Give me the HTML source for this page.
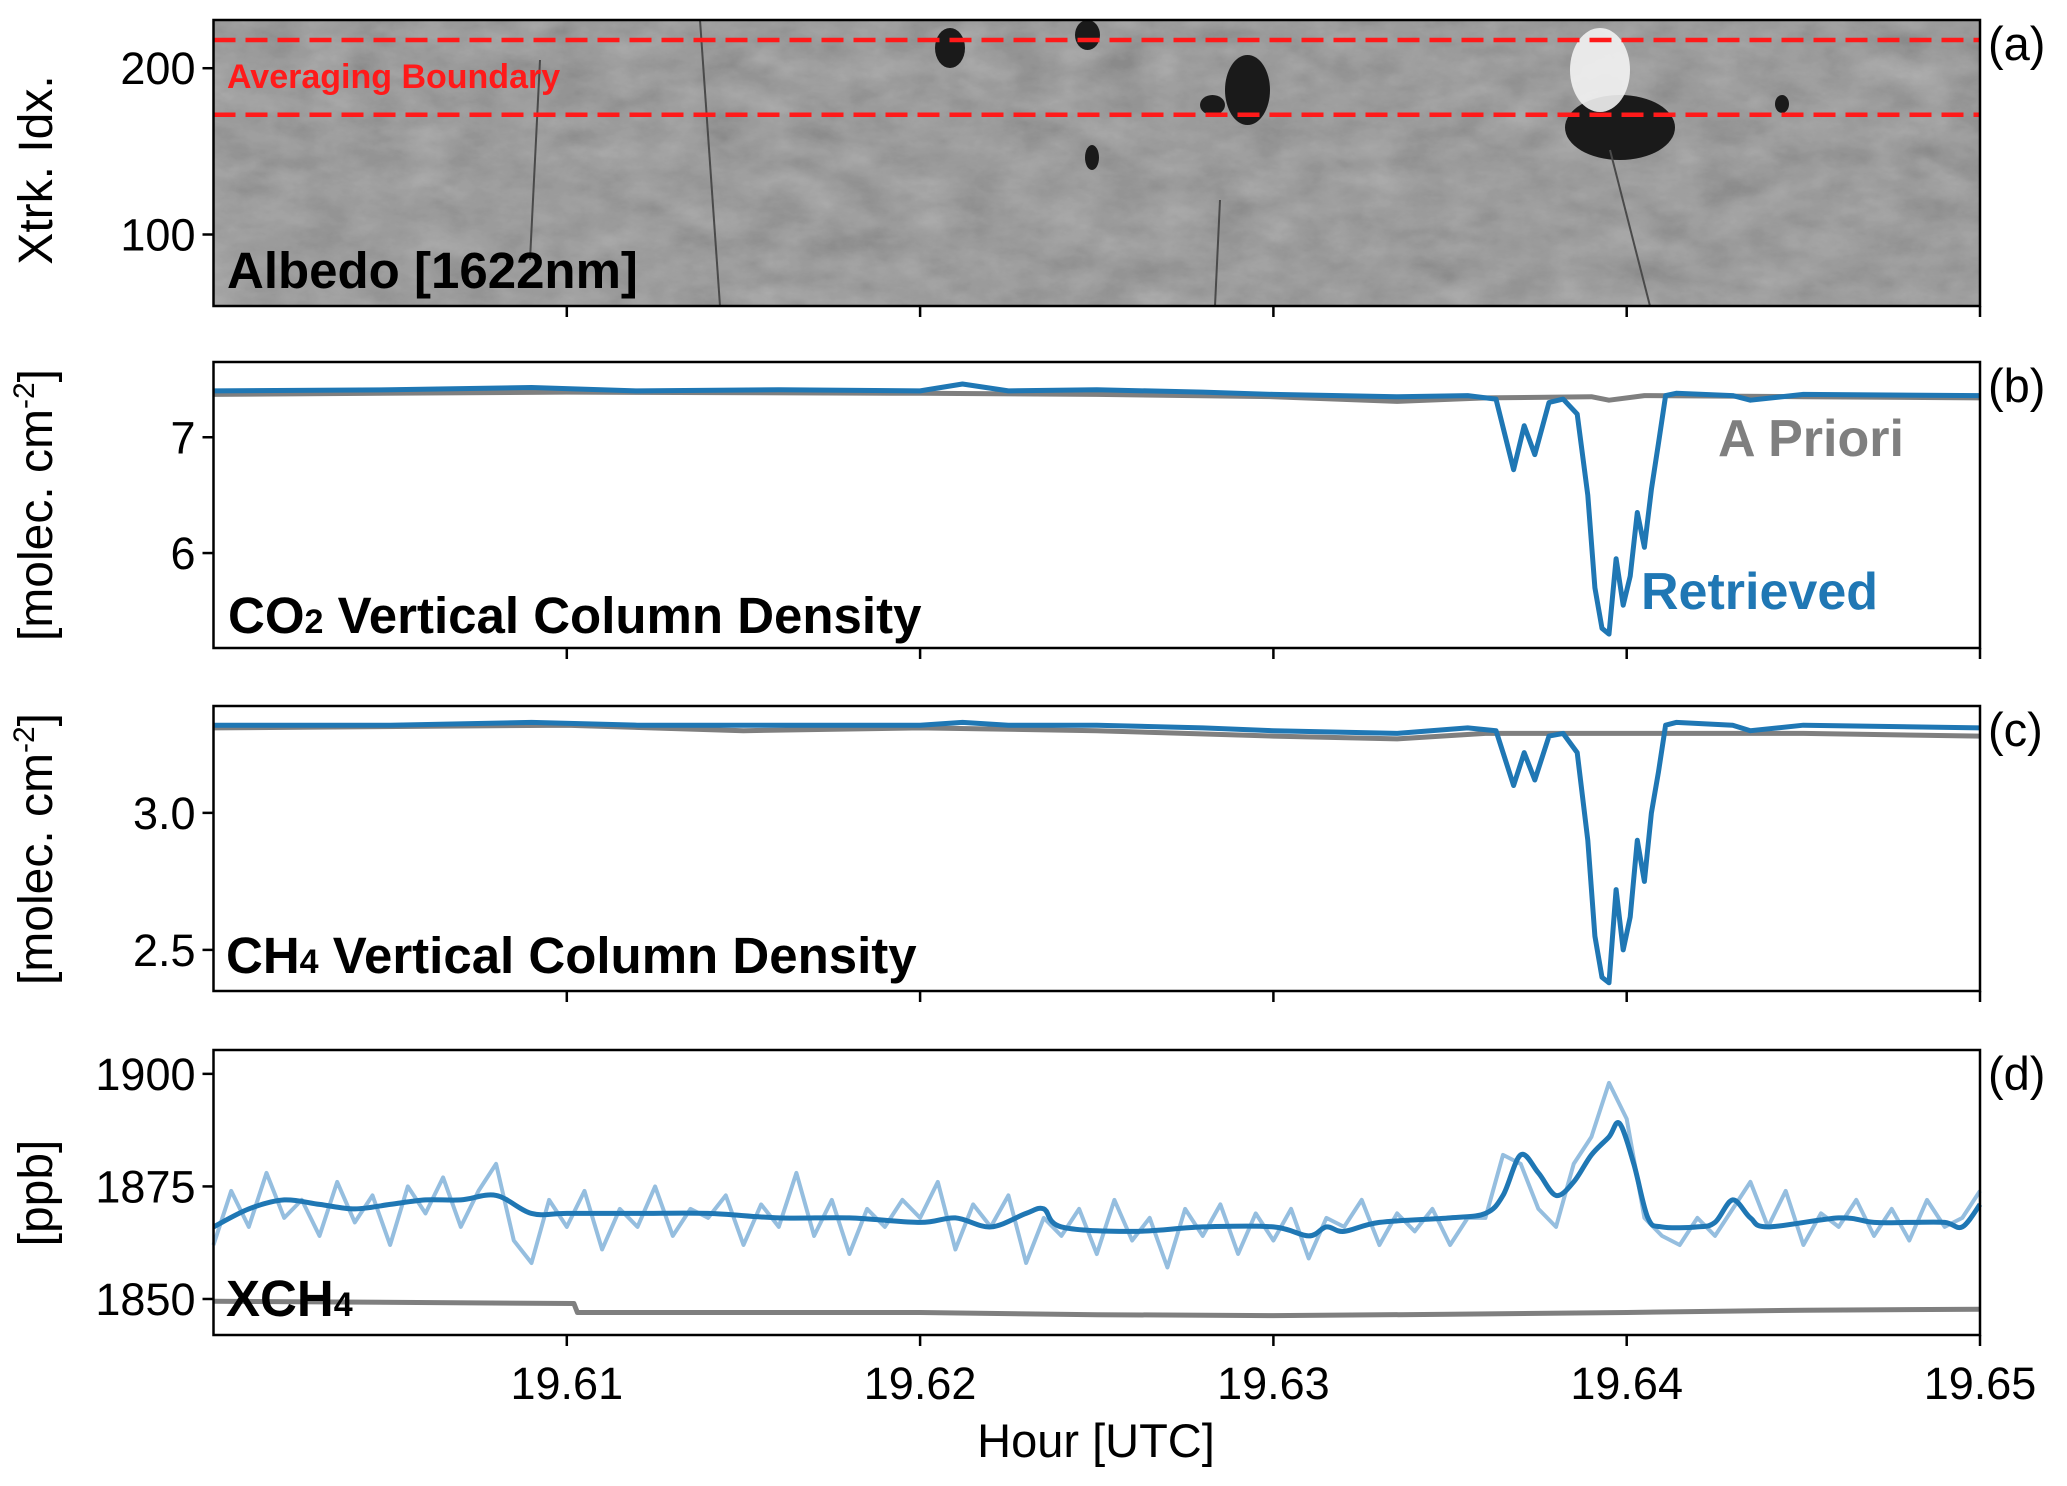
<!DOCTYPE html>
<html><head><meta charset="utf-8"><style>
html,body{margin:0;padding:0;background:#fff}
svg{display:block;font-family:"Liberation Sans",Arial,sans-serif}
</style></head><body>
<svg id="fig" width="2067" height="1486" viewBox="0 0 2067 1486" xmlns="http://www.w3.org/2000/svg">
<defs>
<filter id="noise" x="0" y="0" width="100%" height="100%">
<feTurbulence type="fractalNoise" baseFrequency="0.02 0.035" numOctaves="5" seed="3" result="t"/>
<feColorMatrix type="matrix" values="0 0 0 0 0.45  0 0 0 0 0.45  0 0 0 0 0.45  0.5 0.5 0.5 0 -0.35" in="t" result="m"/>
<feComposite in="m" in2="SourceGraphic" operator="over"/>
</filter>
<clipPath id="clipA"><rect x="213.5" y="20" width="1766.5" height="286"/></clipPath>
</defs>
<g id="root"></g>
</svg>
<script>
// ---------- data ----------
const xDomain=[19.60,19.65];
const xTicks=[19.61,19.62,19.63,19.64,19.65];
const xTickLabels=["19.61","19.62","19.63","19.64","19.65"];
const aDomain=[57,229]; const aTicks=[100,200];
const bounds=[217,172];
const bDomain=[5.18,7.65]; const bTicks=[6,7]; const bTickLabels=["6","7"];
const cDomain=[2.35,3.39]; const cTicks=[2.5,3.0]; const cTickLabels=["2.5","3.0"];
const dDomain=[1842,1905.3]; const dTicks=[1850,1875,1900];

const co2T=[19.600,19.605,19.609,19.612,19.616,19.620,19.6212,19.6225,19.625,19.628,19.630,19.6335,19.6355,19.6363,19.6368,19.6371,19.6374,19.6378,19.6382,19.6386,19.6389,19.6391,19.6393,19.6395,19.6397,19.6399,19.6401,19.6403,19.6405,19.6407,19.6409,19.6411,19.6414,19.643,19.6435,19.645,19.650];
const co2Ret=[7.40,7.41,7.43,7.40,7.41,7.40,7.46,7.40,7.41,7.39,7.37,7.35,7.36,7.33,6.72,7.10,6.85,7.30,7.33,7.20,6.50,5.70,5.35,5.30,5.95,5.55,5.80,6.35,6.05,6.55,6.95,7.36,7.38,7.36,7.32,7.37,7.36];
const co2ApT=[19.600,19.610,19.620,19.625,19.630,19.6335,19.636,19.639,19.6395,19.6405,19.645,19.650];
const co2Ap=[7.37,7.39,7.38,7.37,7.35,7.31,7.34,7.35,7.32,7.36,7.35,7.34];

const ch4T=co2T;
const ch4Ret=[3.32,3.32,3.33,3.32,3.32,3.32,3.33,3.32,3.32,3.31,3.30,3.29,3.31,3.30,3.10,3.22,3.12,3.28,3.29,3.22,2.90,2.55,2.40,2.38,2.72,2.50,2.62,2.90,2.75,3.00,3.15,3.32,3.33,3.32,3.30,3.32,3.31];
const ch4ApT=[19.600,19.610,19.615,19.620,19.625,19.630,19.6335,19.636,19.6395,19.6405,19.645,19.650];
const ch4Ap=[3.31,3.32,3.30,3.31,3.30,3.28,3.27,3.29,3.29,3.29,3.29,3.28];

const xRawT0=19.600, xRawStep=0.0005;
const xch4Raw=[1862,1874,1866,1878,1868,1872,1864,1876,1867,1873,1862,1875,1869,1877,1866,1874,1880,1863,1858,1872,
1866,1874,1861,1870,1866,1875,1864,1870,1868,1873,1862,1871,1866,1878,1864,1872,1860,1870,1866,1872,
1868,1876,1861,1871,1866,1873,1858,1868,1864,1870,1860,1872,1863,1868,1857,1870,1864,1871,1860,1869,
1863,1870,1859,1868,1866,1872,1862,1869,1865,1870,1862,1868,1868,1882,1880,1870,1866,1880,1886,1898,
1890,1868,1864,1862,1868,1864,1870,1876,1866,1874,1862,1869,1866,1872,1864,1870,1863,1872,1866,1868,1874];
const xch4SmT=[19.600,19.601,19.602,19.603,19.604,19.605,19.606,19.607,19.608,19.609,19.610,19.612,19.614,19.616,19.618,19.620,19.621,19.622,19.623,19.6235,19.624,19.626,19.628,19.630,19.631,19.6315,19.632,19.633,19.635,19.636,19.6365,19.637,19.6375,19.638,19.6385,19.639,19.6395,19.6398,19.6402,19.6406,19.641,19.642,19.6425,19.643,19.6435,19.644,19.646,19.647,19.648,19.649,19.6495,19.650];
const xch4Sm=[1866,1870,1872,1871,1870,1871,1872,1872,1873,1869,1869,1869,1869,1868,1868,1867,1868,1866,1869,1870,1866,1865,1866,1866,1864,1866,1865,1867,1868,1869,1873,1882,1878,1873,1876,1882,1886,1889,1880,1868,1866,1866,1867,1872,1868,1866,1868,1867,1867,1867,1866,1871];
const xch4ApT=[19.600,19.6102,19.6103,19.620,19.625,19.630,19.635,19.640,19.645,19.650];
const xch4Ap=[1849.5,1849,1847,1847,1846.5,1846.3,1846.6,1847,1847.5,1847.7];

// ---------- layout ----------
const L=213.5,R=1980;
const panels={a:[20,306],b:[362,648],c:[706,991],d:[1050,1335]};
const NS="http://www.w3.org/2000/svg";
const root=document.getElementById('root');
function el(tag,attrs,parent){const e=document.createElementNS(NS,tag);for(const k in attrs)e.setAttribute(k,attrs[k]);(parent||root).appendChild(e);return e;}
const xs=v=>L+(v-xDomain[0])/(xDomain[1]-xDomain[0])*(R-L);
function ys(p,dom){const [t,b]=panels[p];return v=>b-(v-dom[0])/(dom[1]-dom[0])*(b-t);}
function path(T,V,y){return T.map((t,i)=>(i?'L':'M')+xs(t).toFixed(1)+','+y(V[i]).toFixed(1)).join('');}
function smoothPath(T,V,y){const P=T.map((t,i)=>[xs(t),y(V[i])]);let d='M'+P[0][0].toFixed(1)+','+P[0][1].toFixed(1);
 for(let i=0;i<P.length-1;i++){const p0=P[Math.max(0,i-1)],p1=P[i],p2=P[i+1],p3=P[Math.min(P.length-1,i+2)];
 const c1=[p1[0]+(p2[0]-p0[0])/6,p1[1]+(p2[1]-p0[1])/6],c2=[p2[0]-(p3[0]-p1[0])/6,p2[1]-(p3[1]-p1[1])/6];
 d+='C'+c1[0].toFixed(1)+','+c1[1].toFixed(1)+' '+c2[0].toFixed(1)+','+c2[1].toFixed(1)+' '+p2[0].toFixed(1)+','+p2[1].toFixed(1);}
 return d;}

// panel a image
const ya=ys('a',aDomain);
let g=el('g',{'clip-path':'url(#clipA)'});


el('rect',{x:L,y:20,width:R-L,height:286,fill:'#8a8a8a',filter:'url(#noise)'},g);
const darkPatches=[[935,28,30,40],[1225,55,45,70],[1075,20,25,30],[1200,95,25,20],[1565,95,110,65],[1085,145,14,25],[1775,95,14,18]];
darkPatches.forEach(p=>{el('ellipse',{cx:p[0]+p[2]/2,cy:p[1]+p[3]/2,rx:p[2]/2,ry:p[3]/2,fill:'#1a1a1a'},g);});
el('ellipse',{cx:1600,cy:70,rx:30,ry:42,fill:'#f2f2f2',opacity:0.9},g);
[[540,60,530,260],[700,20,720,306],[1220,200,1215,306],[1610,150,1650,306]].forEach(l=>el('line',{x1:l[0],y1:l[1],x2:l[2],y2:l[3],stroke:'#4a4a4a','stroke-width':2},g));
bounds.forEach((b,i)=>{const e=el('line',{x1:L,x2:R,y1:ya(b),y2:ya(b),stroke:'#ff1a1a','stroke-width':4.5,'stroke-dasharray':'22,10'});
});

const yb=ys('b',bDomain), yc=ys('c',cDomain), yd=ys('d',dDomain);
function line(T,V,y,color,w,name,op,smooth){const e=el('path',{d:smooth?smoothPath(T,V,y):path(T,V,y),fill:'none',stroke:color,'stroke-width':w,'stroke-linejoin':'round',opacity:op||1});
}
line(co2ApT,co2Ap,yb,'#7f7f7f',5,'co2-apriori-line');
line(co2T,co2Ret,yb,'#1f77b4',5,'co2-retrieved-line');
line(ch4ApT,ch4Ap,yc,'#7f7f7f',5,'ch4-apriori-line');
line(ch4T,ch4Ret,yc,'#1f77b4',5,'ch4-retrieved-line');
const rawT=xch4Raw.map((v,i)=>xRawT0+i*xRawStep);
line(rawT,xch4Raw,yd,'#8fbbdd',4,'xch4-raw-line',0.95);
line(xch4SmT,xch4Sm,yd,'#1f77b4',5,'xch4-smoothed-line',1,true);
line(xch4ApT,xch4Ap,yd,'#7f7f7f',5,'xch4-apriori-line');

function txt(x,y,s,opts,name){const e=el('text',Object.assign({x:x,y:y,'font-size':45,fill:'#000'},opts||{}));e.textContent=s;
return e;}
const letters={a:'(a)',b:'(b)',c:'(c)',d:'(d)'};
for(const p in panels){const [t,b]=panels[p];
 const r=el('rect',{x:L,y:t,width:R-L,height:b-t,fill:'none',stroke:'#000','stroke-width':2.5});
 
 xTicks.forEach(v=>el('line',{x1:xs(v),x2:xs(v),y1:b,y2:b+11,stroke:'#000','stroke-width':2.5}));
 txt(1988,t+40,letters[p],{'font-size':47},'panel-label-'+p);
}
function yt(p,ticks,labels,y){ticks.forEach((v,i)=>{el('line',{x1:L,x2:L-11,y1:y(v),y2:y(v),stroke:'#000','stroke-width':2.5});
 txt(L-18,y(v)+16,labels[i],{'text-anchor':'end'},'y-tick-'+p);});}
yt('a',aTicks,aTicks.map(String),ya);
yt('b',bTicks,bTickLabels,yb);
yt('c',cTicks,cTickLabels,yc);
yt('d',dTicks,dTicks.map(String),yd);
xTicks.forEach((v,i)=>txt(xs(v),1399,xTickLabels[i],{'text-anchor':'middle'},'x-tick-label'));
txt(1096,1457,'Hour [UTC]',{'text-anchor':'middle','font-size':47},'x-axis-title');
function ytitle(cy,s,name){return txt(0,0,s,{'text-anchor':'middle','font-size':48,transform:'translate(52,'+cy+') rotate(-90)'},name);}
ytitle(170,'Xtrk. Idx.','y-axis-title-a');
let e1=ytitle(505,'[molec. cm','y-axis-title-b');let s1=el('tspan',{'font-size':30,dy:-18},e1);s1.textContent='-2';let s1b=el('tspan',{dy:18},e1);s1b.textContent=']';
let e2=ytitle(849,'[molec. cm','y-axis-title-c');let s2=el('tspan',{'font-size':30,dy:-18},e2);s2.textContent='-2';let s2b=el('tspan',{dy:18},e2);s2b.textContent=']';
ytitle(1193,'[ppb]','y-axis-title-d');
txt(227,288,'Albedo [1622nm]',{'font-size':51,'font-weight':'bold'},'albedo-title');
txt(227,88,'Averaging Boundary',{'font-size':34,'font-weight':'bold',fill:'#ff1a1a'},'averaging-boundary-label');
let c1=txt(228,633,'CO',{'font-size':51,'font-weight':'bold'},'co2-title');let c1s=el('tspan',{'font-size':34},c1);c1s.textContent='2';let c1t=el('tspan',{},c1);c1t.textContent=' Vertical Column Density';
let c2=txt(226,973,'CH',{'font-size':51,'font-weight':'bold'},'ch4-title');let c2s=el('tspan',{'font-size':34},c2);c2s.textContent='4';let c2t=el('tspan',{},c2);c2t.textContent=' Vertical Column Density';
let c3=txt(226,1316,'XCH',{'font-size':51,'font-weight':'bold'},'xch4-title');let c3s=el('tspan',{'font-size':34},c3);c3s.textContent='4';
txt(1641,609,'Retrieved',{'font-size':52,'font-weight':'bold',fill:'#1f77b4'},'retrieved-label');
txt(1718,456,'A Priori',{'font-size':52,'font-weight':'bold',fill:'#7f7f7f'},'apriori-label');
</script>
</body></html>
